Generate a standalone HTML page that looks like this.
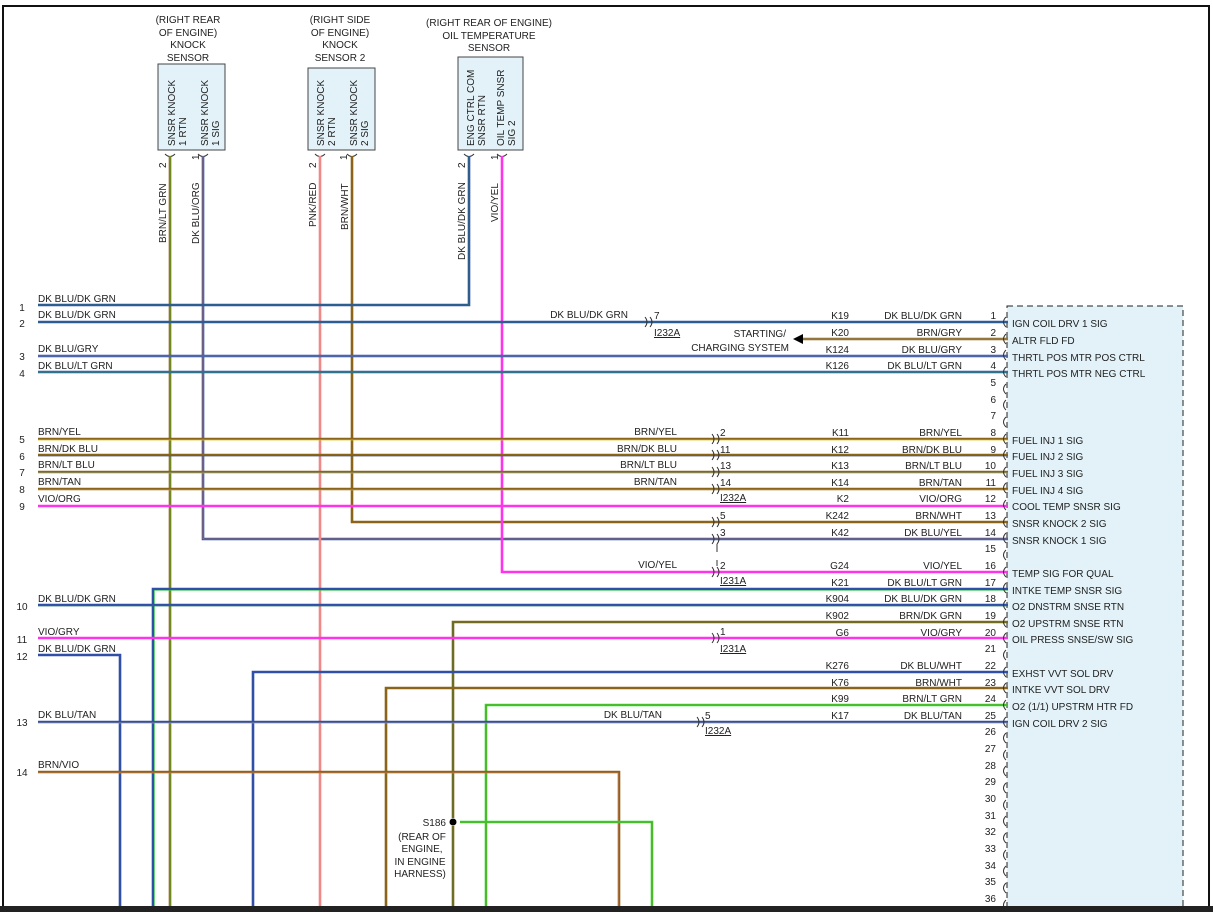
<!DOCTYPE html>
<html><head><meta charset="utf-8"><style>
html,body{margin:0;padding:0;background:#fff;}
svg{display:block;}
text{font-family:"Liberation Sans",Arial,sans-serif;font-size:10px;fill:#222;}
.m{fill:none;stroke-width:2.6;}
.s{fill:none;stroke-width:0.6;}
.b{stroke:#3050a8}.br{stroke:#8a6418}.p{stroke:#f08888}.v{stroke:#ff33ee}
.g{stroke:#33dd33}.y{stroke:#ffee22}.lb{stroke:#88ddee}.o{stroke:#ff8833}.w{stroke:#e8e0c8}.gy{stroke:#aaaaaa}.t{stroke:#d8b880}.dg{stroke:#228844}
.c{fill:none;stroke:#333;stroke-width:1;}
</style></head><body>
<svg width="1213" height="912" viewBox="0 0 1213 912" xmlns="http://www.w3.org/2000/svg">
<rect x="0" y="0" width="1213" height="912" fill="#fff"/>
<path d="M3 912 V6 H1209 V912" fill="none" stroke="#111" stroke-width="2"/>
<rect x="1007" y="306" width="176" height="610" fill="#e2f2f8" stroke="#222" stroke-width="1" stroke-dasharray="6,4"/>
<rect x="158" y="64" width="67" height="86" fill="#e2f2f8" stroke="#444"/>
<rect x="308" y="68" width="67" height="82" fill="#e2f2f8" stroke="#444"/>
<rect x="458" y="57" width="65" height="93" fill="#e2f2f8" stroke="#444"/>
<g text-anchor="middle">
<text x="188" y="23">(RIGHT REAR</text><text x="188" y="36">OF ENGINE)</text><text x="188" y="48">KNOCK</text><text x="188" y="61">SENSOR</text>
<text x="340" y="23">(RIGHT SIDE</text><text x="340" y="36">OF ENGINE)</text><text x="340" y="48">KNOCK</text><text x="340" y="61">SENSOR 2</text>
<text x="489" y="26">(RIGHT REAR OF ENGINE)</text><text x="489" y="39">OIL TEMPERATURE</text><text x="489" y="51">SENSOR</text>
</g>
<g font-size="9.5">
<text transform="translate(175,146) rotate(-90)">SNSR KNOCK</text><text transform="translate(186,146) rotate(-90)">1 RTN</text>
<text transform="translate(208,146) rotate(-90)">SNSR KNOCK</text><text transform="translate(219,146) rotate(-90)">1 SIG</text>
<text transform="translate(324,146) rotate(-90)">SNSR KNOCK</text><text transform="translate(335,146) rotate(-90)">2 RTN</text>
<text transform="translate(357,146) rotate(-90)">SNSR KNOCK</text><text transform="translate(368,146) rotate(-90)">2 SIG</text>
<text transform="translate(474,146) rotate(-90)">ENG CTRL COM</text><text transform="translate(485,146) rotate(-90)">SNSR RTN</text>
<text transform="translate(504,146) rotate(-90)">OIL TEMP SNSR</text><text transform="translate(515,146) rotate(-90)">SIG 2</text>
<text transform="translate(166,168) rotate(-90)">2</text><text transform="translate(199,160) rotate(-90)">1</text>
<text transform="translate(316,168) rotate(-90)">2</text><text transform="translate(347,160) rotate(-90)">1</text>
<text transform="translate(465,168) rotate(-90)">2</text><text transform="translate(498,160) rotate(-90)">1</text>
<text transform="translate(166,243) rotate(-90)">BRN/LT GRN</text>
<text transform="translate(199,244) rotate(-90)">DK BLU/ORG</text>
<text transform="translate(316,227) rotate(-90)">PNK/RED</text>
<text transform="translate(348,230) rotate(-90)">BRN/WHT</text>
<text transform="translate(465,260) rotate(-90)">DK BLU/DK GRN</text>
<text transform="translate(498,222) rotate(-90)">VIO/YEL</text>
</g>
<g class="c"><path d="M165 154 q5 5 10 0 M198 154 q5 5 10 0 M315 154 q5 5 10 0 M347 154 q5 5 10 0 M464 154 q5 5 10 0 M497 154 q5 5 10 0"/></g>

<g>
<path class="m br" d="M170 156 V912"/><path class="s g" d="M170 156 V912"/>
<path class="m b" d="M203 156 V539 H1008"/><path class="s o" d="M203 156 V539 H1008"/>
<path class="m p" d="M320 156 V912"/>
<path class="m br" d="M352 156 V522 H1008"/>
<path class="m b" d="M469 156 V305 H38"/><path class="s dg" d="M469 156 V305 H38"/>
<path class="m v" d="M502 156 V572 H1008"/>
<path class="m b" d="M38 322 H1008"/><path class="s dg" d="M38 322 H1008"/>
<path class="m br" d="M800 339 H1008"/><path class="s gy" d="M800 339 H1008"/>
<path class="m b" d="M38 356 H1008"/><path class="s gy" d="M38 356 H1008"/>
<path class="m b" d="M38 372 H1008"/><path class="s g" d="M38 372 H1008"/>
<path class="m br" d="M38 439 H1008"/><path class="s y" d="M38 440 H1008"/>
<path class="m br" d="M38 455 H1008"/><path class="s b" d="M38 456 H1008"/>
<path class="m br" d="M38 472 H1008"/><path class="s lb" d="M38 473 H1008"/>
<path class="m br" d="M38 489 H1008"/><path class="s t" d="M38 490 H1008"/>
<path class="m v" d="M38 506 H1008"/>
<path class="m b" d="M153 912 V589 H1008"/><path class="s g" d="M154.5 912 V590.5 H1008"/>
<path class="m b" d="M38 605 H1008"/><path class="s dg" d="M38 606 H1008"/>
<path class="m br" d="M453 818 V622 H1008"/><path class="s dg" d="M453 818 V622 H1008"/>
<path class="m v" d="M38 638 H1008"/>
<path class="m b" d="M38 655 H120 V912"/>
<path class="m b" d="M253 912 V672 H1008"/>
<path class="m br" d="M386 912 V688 H1008"/>
<path class="m g" d="M486 912 V705 H1008"/><path class="s br" d="M486 912 V705 H1008"/>
<path class="m b" d="M38 722 H1008"/><path class="s t" d="M38 723 H1008"/>
<path class="m br" d="M38 772 H619 V912"/><path class="s p" d="M38 773 H618 V912"/>
<path class="m br" d="M453 826 V912"/><path class="s dg" d="M453 826 V912"/>
<path class="m g" d="M460 822 H652 V912"/><path class="s br" d="M460 822 H652 V912"/>
</g>
<circle cx="453" cy="822" r="3.5" fill="#000"/>
<polygon points="793,339 803,334 803,344" fill="#000"/>
<g class="c">
<path d="M645 317 q4 5 0 10 M650 317 q4 5 0 10"/>
<path d="M712 434 q4 5 0 10 M717 434 q4 5 0 10"/>
<path d="M712 450 q4 5 0 10 M717 450 q4 5 0 10"/>
<path d="M712 467 q4 5 0 10 M717 467 q4 5 0 10"/>
<path d="M712 484 q4 5 0 10 M717 484 q4 5 0 10"/>
<path d="M712 517 q4 5 0 10 M717 517 q4 5 0 10"/>
<path d="M712 534 q4 5 0 10 M717 534 q4 5 0 10 M717 544 V552 M717 560 V566"/>
<path d="M712 567 q4 5 0 10 M717 567 q4 5 0 10"/>
<path d="M712 633 q4 5 0 10 M717 633 q4 5 0 10"/>
<path d="M697 717 q4 5 0 10 M702 717 q4 5 0 10"/>
</g>
<g class="c">
<path d="M1006 317 q-5 5 0 10 M1006 334 q-5 5 0 10 M1006 350 q-5 5 0 10 M1006 367 q-5 5 0 10 M1006 384 q-5 5 0 10 M1006 400 q-5 5 0 10 M1006 417 q-5 5 0 10 M1006 434 q-5 5 0 10 M1006 450 q-5 5 0 10 M1006 467 q-5 5 0 10 M1006 483 q-5 5 0 10 M1006 500 q-5 5 0 10 M1006 517 q-5 5 0 10 M1006 533 q-5 5 0 10 M1006 550 q-5 5 0 10 M1006 567 q-5 5 0 10 M1006 583 q-5 5 0 10 M1006 600 q-5 5 0 10 M1006 617 q-5 5 0 10 M1006 633 q-5 5 0 10 M1006 650 q-5 5 0 10 M1006 667 q-5 5 0 10 M1006 683 q-5 5 0 10 M1006 700 q-5 5 0 10 M1006 717 q-5 5 0 10 M1006 733 q-5 5 0 10 M1006 750 q-5 5 0 10 M1006 766 q-5 5 0 10 M1006 783 q-5 5 0 10 M1006 800 q-5 5 0 10 M1006 816 q-5 5 0 10 M1006 833 q-5 5 0 10 M1006 850 q-5 5 0 10 M1006 866 q-5 5 0 10 M1006 883 q-5 5 0 10 M1006 900 q-5 5 0 10"/>
</g>
<g>
<text x="38" y="302">DK BLU/DK GRN</text><text x="38" y="318">DK BLU/DK GRN</text>
<text x="38" y="352">DK BLU/GRY</text><text x="38" y="369">DK BLU/LT GRN</text>
<text x="38" y="435">BRN/YEL</text><text x="38" y="452">BRN/DK BLU</text><text x="38" y="468">BRN/LT BLU</text>
<text x="38" y="485">BRN/TAN</text><text x="38" y="502">VIO/ORG</text>
<text x="38" y="602">DK BLU/DK GRN</text><text x="38" y="635">VIO/GRY</text><text x="38" y="652">DK BLU/DK GRN</text>
<text x="38" y="718">DK BLU/TAN</text><text x="38" y="768">BRN/VIO</text>
</g>
<g text-anchor="middle">
<text x="22" y="311">1</text><text x="22" y="327">2</text><text x="22" y="360">3</text><text x="22" y="377">4</text>
<text x="22" y="443">5</text><text x="22" y="460">6</text><text x="22" y="476">7</text><text x="22" y="493">8</text><text x="22" y="510">9</text>
<text x="22" y="610">10</text><text x="22" y="643">11</text><text x="22" y="660">12</text><text x="22" y="726">13</text><text x="22" y="776">14</text>
</g>
<g text-anchor="end">
<text x="628" y="318">DK BLU/DK GRN</text>
<text x="677" y="435">BRN/YEL</text><text x="677" y="452">BRN/DK BLU</text><text x="677" y="468">BRN/LT BLU</text><text x="677" y="485">BRN/TAN</text>
<text x="677" y="568">VIO/YEL</text><text x="662" y="718">DK BLU/TAN</text>
<text x="786" y="337">STARTING/</text><text x="789" y="351">CHARGING SYSTEM</text>
<text x="446" y="826">S186</text>
</g>
<g text-anchor="middle"><text x="422" y="840">(REAR OF</text><text x="422" y="852">ENGINE,</text><text x="420" y="865">IN ENGINE</text><text x="420" y="877">HARNESS)</text></g>
<g font-size="9.5">
<text x="654" y="319">7</text><text x="654" y="336" text-decoration="underline">I232A</text>
<text x="720" y="436">2</text><text x="720" y="453">11</text><text x="720" y="469">13</text><text x="720" y="486">14</text><text x="720" y="501" text-decoration="underline">I232A</text>
<text x="720" y="519">5</text><text x="720" y="536">3</text>
<text x="720" y="569">2</text><text x="720" y="584" text-decoration="underline">I231A</text>
<text x="720" y="635">1</text><text x="720" y="652" text-decoration="underline">I231A</text>
<text x="705" y="719">5</text><text x="705" y="734" text-decoration="underline">I232A</text>
</g>
<g text-anchor="end">
<text x="849" y="319">K19</text><text x="962" y="319">DK BLU/DK GRN</text><text x="996" y="319">1</text>
<text x="849" y="336">K20</text><text x="962" y="336">BRN/GRY</text><text x="996" y="336">2</text>
<text x="849" y="353">K124</text><text x="962" y="353">DK BLU/GRY</text><text x="996" y="353">3</text>
<text x="849" y="369">K126</text><text x="962" y="369">DK BLU/LT GRN</text><text x="996" y="369">4</text>
<text x="996" y="386">5</text><text x="996" y="403">6</text><text x="996" y="419">7</text>
<text x="849" y="436">K11</text><text x="962" y="436">BRN/YEL</text><text x="996" y="436">8</text>
<text x="849" y="453">K12</text><text x="962" y="453">BRN/DK BLU</text><text x="996" y="453">9</text>
<text x="849" y="469">K13</text><text x="962" y="469">BRN/LT BLU</text><text x="996" y="469">10</text>
<text x="849" y="486">K14</text><text x="962" y="486">BRN/TAN</text><text x="996" y="486">11</text>
<text x="849" y="502">K2</text><text x="962" y="502">VIO/ORG</text><text x="996" y="502">12</text>
<text x="849" y="519">K242</text><text x="962" y="519">BRN/WHT</text><text x="996" y="519">13</text>
<text x="849" y="536">K42</text><text x="962" y="536">DK BLU/YEL</text><text x="996" y="536">14</text>
<text x="996" y="552">15</text>
<text x="849" y="569">G24</text><text x="962" y="569">VIO/YEL</text><text x="996" y="569">16</text>
<text x="849" y="586">K21</text><text x="962" y="586">DK BLU/LT GRN</text><text x="996" y="586">17</text>
<text x="849" y="602">K904</text><text x="962" y="602">DK BLU/DK GRN</text><text x="996" y="602">18</text>
<text x="849" y="619">K902</text><text x="962" y="619">BRN/DK GRN</text><text x="996" y="619">19</text>
<text x="849" y="636">G6</text><text x="962" y="636">VIO/GRY</text><text x="996" y="636">20</text>
<text x="996" y="652">21</text>
<text x="849" y="669">K276</text><text x="962" y="669">DK BLU/WHT</text><text x="996" y="669">22</text>
<text x="849" y="686">K76</text><text x="962" y="686">BRN/WHT</text><text x="996" y="686">23</text>
<text x="849" y="702">K99</text><text x="962" y="702">BRN/LT GRN</text><text x="996" y="702">24</text>
<text x="849" y="719">K17</text><text x="962" y="719">DK BLU/TAN</text><text x="996" y="719">25</text>
<text x="996" y="735">26</text><text x="996" y="752">27</text><text x="996" y="769">28</text><text x="996" y="785">29</text><text x="996" y="802">30</text>
<text x="996" y="819">31</text><text x="996" y="835">32</text><text x="996" y="852">33</text><text x="996" y="869">34</text><text x="996" y="885">35</text><text x="996" y="902">36</text>
</g>
<g>
<text x="1012" y="327">IGN COIL DRV 1 SIG</text><text x="1012" y="344">ALTR FLD FD</text>
<text x="1012" y="361">THRTL POS MTR POS CTRL</text><text x="1012" y="377">THRTL POS MTR NEG CTRL</text>
<text x="1012" y="444">FUEL INJ 1 SIG</text><text x="1012" y="460">FUEL INJ 2 SIG</text><text x="1012" y="477">FUEL INJ 3 SIG</text><text x="1012" y="494">FUEL INJ 4 SIG</text>
<text x="1012" y="510">COOL TEMP SNSR SIG</text><text x="1012" y="527">SNSR KNOCK 2 SIG</text><text x="1012" y="544">SNSR KNOCK 1 SIG</text>
<text x="1012" y="577">TEMP SIG FOR QUAL</text><text x="1012" y="594">INTKE TEMP SNSR SIG</text><text x="1012" y="610">O2 DNSTRM SNSE RTN</text>
<text x="1012" y="627">O2 UPSTRM SNSE RTN</text><text x="1012" y="643">OIL PRESS SNSE/SW SIG</text>
<text x="1012" y="677">EXHST VVT SOL DRV</text><text x="1012" y="693">INTKE VVT SOL DRV</text><text x="1012" y="710">O2 (1/1) UPSTRM HTR FD</text><text x="1012" y="727">IGN COIL DRV 2 SIG</text>
</g>
<rect x="0" y="906" width="1213" height="6" fill="#222"/>
</svg>
</body></html>
